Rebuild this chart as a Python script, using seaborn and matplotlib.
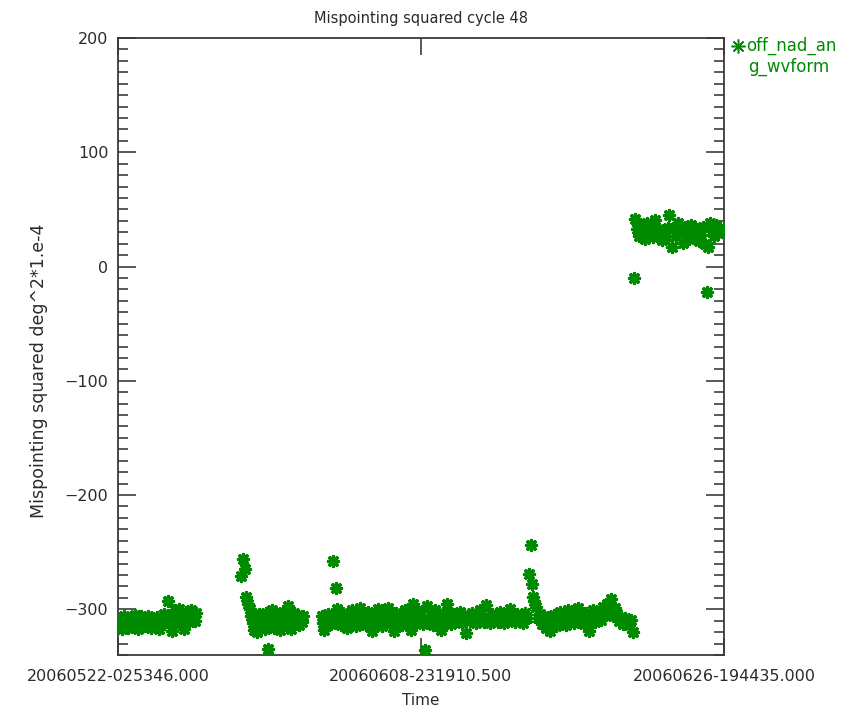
import matplotlib
matplotlib.use("Agg")
import matplotlib.pyplot as plt
import numpy as np
import pandas as pd
import seaborn as sns

# Time offsets are in days since the first tick (20060522-025346.000)
tick_labels = ["20060522-025346.000", "20060608-231910.500", "20060626-194435.000"]

seg_a_day = [0.06, 0.13, 0.21, 0.28, 0.36, 0.44, 0.52, 0.60, 0.69, 0.77, 0.86, 0.94, 1.02, 1.10,
             1.19, 1.27, 1.35, 1.44, 1.52, 1.60, 1.69, 1.77, 1.85, 1.94, 2.02, 2.10, 2.19, 2.27,
             2.35, 2.44, 2.52, 2.60, 2.69, 2.77, 2.85, 2.94, 3.02, 3.10, 3.18, 3.27, 3.35, 3.43,
             3.52, 3.60, 3.68, 3.77, 3.86, 3.94, 4.02, 4.11, 4.19, 4.28, 4.36, 4.45, 4.53, 4.62]
seg_a_val = [-314, -309, -317, -311, -306, -313, -310, -316, -312, -307, -315, -310, -305, -312,
             -317, -309, -306, -311, -315, -308, -313, -306, -311, -316, -312, -309, -314, -307,
             -311, -317, -313, -308, -304, -311, -309, -293, -307, -312, -319, -304, -301, -309,
             -306, -300, -312, -305, -317, -308, -302, -306, -311, -301, -307, -304, -310, -303]

seg_b_day = [7.25, 7.36, 7.48, 7.54, 7.66, 7.78, 7.86, 7.93, 8.01, 8.09, 8.17, 8.25, 8.33, 8.41,
             8.49, 8.57, 8.65, 8.73, 8.84, 8.90, 8.98, 9.06, 9.14, 9.22, 9.30, 9.38, 9.46, 9.54,
             9.62, 9.70, 9.78, 9.86, 9.94, 10.02, 10.10, 10.18, 10.26, 10.34, 10.42, 10.50, 10.58,
             10.66, 10.74, 10.82, 10.92]
seg_b_val = [-271, -256, -265, -289, -295, -300, -306, -312, -318, -314, -320, -309, -304, -315,
             -311, -307, -317, -303, -335, -313, -306, -301, -310, -316, -308, -304, -312, -318,
             -306, -302, -309, -314, -305, -297, -311, -317, -307, -303, -312, -309, -305, -314,
             -308, -311, -306]

seg_c_day = [12.00, 12.06, 12.12, 12.20, 12.28, 12.36, 12.44, 12.52, 12.60, 12.67, 12.76, 12.84,
             12.92, 13.04, 13.16, 13.28, 13.40, 13.52, 13.64, 13.76, 13.88,
             14.00, 14.12, 14.24, 14.36, 14.48, 14.60, 14.72, 14.84, 14.96,
             15.08, 15.20, 15.32, 15.44, 15.56, 15.68, 15.80, 15.92,
             16.04, 16.16, 16.28, 16.40, 16.52, 16.64, 16.76, 16.88,
             17.00, 17.12, 17.24, 17.36, 17.48, 17.60, 17.72, 17.84, 17.96,
             18.08, 18.20, 18.32, 18.44, 18.56, 18.68, 18.80, 18.92,
             19.04, 19.16, 19.28, 19.40, 19.52, 19.64, 19.76, 19.88,
             20.00, 20.12, 20.24, 20.36, 20.48, 20.60, 20.72, 20.84, 20.96,
             21.08, 21.20, 21.32, 21.44, 21.56, 21.68, 21.80, 21.92,
             22.04, 22.16, 22.28, 22.40, 22.52, 22.64, 22.76, 22.88,
             23.00, 23.12, 23.24, 23.36, 23.48, 23.60, 23.72, 23.84, 23.96, 24.08]
seg_c_val = [-306, -312, -318, -309, -314, -304, -308, -313, -305, -258, -310, -281,
             -300, -309, -314, -303, -311, -316, -306, -301, -310,
             -315, -305, -299, -311, -307, -314, -302, -309, -319,
             -306, -312, -300, -308, -315, -304, -310, -299,
             -313, -307, -319, -303, -310, -305, -314, -301,
             -309, -312, -318, -295, -306, -311, -302, -308, -313,
             -336, -297, -310, -305, -314, -301, -309, -306,
             -318, -303, -311, -295, -308, -313, -304, -310,
             -306, -302, -312, -308, -321, -305, -310, -303, -309,
             -312, -306, -301, -309, -311, -296, -307, -312,
             -304, -309, -306, -311, -302, -308, -312, -305,
             -309, -300, -307, -311, -304, -309, -306, -312, -303, -308]

seg_d_day = [24.21, 24.33, 24.39, 24.45, 24.52,
             24.60, 24.72, 24.84, 24.96, 25.08, 25.20, 25.32, 25.44, 25.56, 25.68, 25.80, 25.92,
             26.04, 26.16, 26.28, 26.40, 26.52, 26.64, 26.76, 26.88, 27.00, 27.12, 27.24, 27.36,
             27.48, 27.60, 27.72, 27.84, 27.96, 28.08, 28.20, 28.32, 28.44, 28.56, 28.68, 28.80,
             28.92, 29.04, 29.16, 29.28, 29.40, 29.52, 29.64, 29.76, 29.88, 30.00, 30.12, 30.24,
             30.36]
seg_d_val = [-269, -244, -278, -289, -293,
             -298, -308, -304, -313, -306, -316, -310, -319, -312, -305, -315, -309,
             -302, -311, -306, -314, -301, -309, -304, -312, -307, -299, -310, -305,
             -313, -303, -319, -308, -301, -311, -306, -302, -309, -298, -304, -295,
             -301, -291, -306, -299, -304, -310, -307, -313, -308, -311, -314, -309,
             -320]

seg_e_day = [30.40, 30.46, 30.58, 30.70, 30.82, 30.94, 31.06, 31.18, 31.30, 31.42, 31.54, 31.66,
             31.78, 31.90, 32.02, 32.14, 32.26, 32.38, 32.46, 32.64,
             32.78, 32.90, 33.02, 33.14, 33.26, 33.38, 33.50, 33.62, 33.74, 33.86, 33.98, 34.10,
             34.22, 34.34, 34.46, 34.58, 34.70, 34.76, 34.88, 35.00, 35.12, 35.24, 35.36, 35.48,
             35.60]
seg_e_val = [-10, 42, 33, 27, 36, 30, 24, 38, 31, 35, 26, 41,
             29, 33, 23, 31, 27, 34, 45, 17,
             34, 27, 38, 31, 21, 35, 29, 24, 36, 30, 26, 33,
             22, 28, 35, 20, -22, 17, 38, 31, 27, 36, 29, 33,
             30]

y_ticks = [-300, -200, -100, 0, 100, 200]
y_range = (-340, 200)

GREEN = "#008a00"
INK = "#2b2b2b"

frames = [pd.DataFrame({"day": d, "value": v}) for d, v in
          [(seg_a_day, seg_a_val), (seg_b_day, seg_b_val), (seg_c_day, seg_c_val),
           (seg_d_day, seg_d_val), (seg_e_day, seg_e_val)]]
df = pd.concat(frames, ignore_index=True)

# Tick positions come straight from the timestamps printed under the axis
stamps = pd.to_datetime(tick_labels, format="%Y%m%d-%H%M%S.%f")
tick_days = [(s - stamps[0]).total_seconds() / 86400.0 for s in stamps]

sns.set_style("white")
plt.rcParams["font.family"] = ["DejaVu Sans"]

fig = plt.figure(figsize=(8.56, 7.07), dpi=100)
ax = fig.add_axes([118 / 856, 1 - 655 / 707, 606 / 856, 617 / 707])

sns.scatterplot(data=df, x="day", y="value", ax=ax, marker=(8, 2, 0), color=GREEN,
                s=52, linewidth=2.4, legend=False, zorder=3)

ax.set_xlim(tick_days[0], tick_days[-1])
ax.set_ylim(*y_range)

ax.set_xticks(tick_days)
ax.set_xticklabels(tick_labels, fontsize=11.5, color=INK)
ax.set_yticks(y_ticks)
ax.set_yticklabels([f"{t:d}".replace("-", "\u2212") for t in y_ticks], fontsize=11.5, color=INK)
ax.yaxis.set_minor_locator(matplotlib.ticker.MultipleLocator(10))

ax.tick_params(axis="y", which="major", direction="in", length=13, width=1.1,
               left=True, right=True, colors=INK, pad=7)
ax.tick_params(axis="y", which="minor", direction="in", length=7, width=1.1,
               left=True, right=True, colors=INK)
ax.tick_params(axis="x", which="major", direction="in", length=12, width=1.1,
               bottom=True, top=True, colors=INK, pad=10)
for lab in ax.get_xticklabels() + ax.get_yticklabels():
    lab.set_color(INK)

for sp in ax.spines.values():
    sp.set_color("#3a3a3a")
    sp.set_linewidth(1.3)

ax.set_title("Mispointing squared cycle 48", fontsize=10.5, color=INK, pad=11)
ax.set_xlabel("Time", fontsize=11, color=INK)
ax.xaxis.set_label_coords(0.5, -0.061)
ax.set_ylabel("Mispointing squared deg^2*1.e-4", fontsize=12.5, color=INK)
ax.yaxis.set_label_coords(-0.115, 0.46)

# Series key outside the plot frame, top right
fig.add_artist(matplotlib.lines.Line2D([738 / 856], [1 - 46 / 707], marker=(8, 2, 0),
                                       markersize=10, markeredgewidth=1.1, color=GREEN,
                                       linestyle="none"))
fig.text(746 / 856, 1 - 46 / 707, "off_nad_an", fontsize=12, color=GREEN,
         ha="left", va="center")
fig.text(748 / 856, 1 - 67 / 707, "g_wvform", fontsize=12, color=GREEN,
         ha="left", va="center")

fig.savefig("out.png", dpi=100, facecolor="white")
